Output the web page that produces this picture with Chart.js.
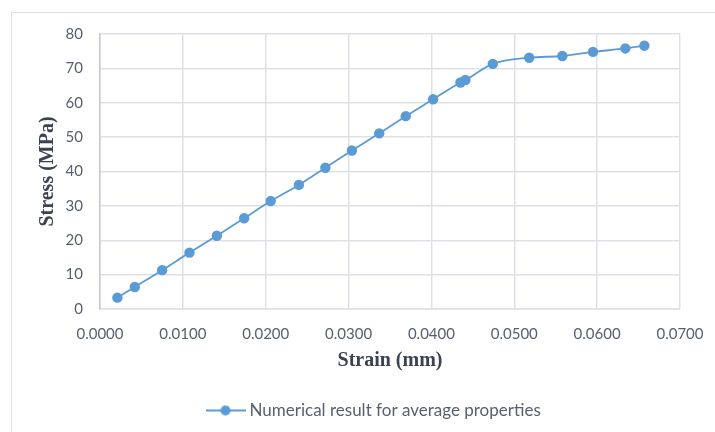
<!DOCTYPE html>
<html>
<head>
<meta charset="utf-8">
<script src="https://cdn.jsdelivr.net/npm/chart.js@4.4.0/dist/chart.umd.min.js"></script>
<style>
  html, body { margin: 0; padding: 0; background: #fff; }
  #wrap { position: relative; width: 715px; height: 432px; overflow: hidden; }
  #frame { position: absolute; left: 11px; top: 12px; width: 760px; height: 460px; border: 1px solid #dde1e7; box-sizing: border-box; }
  #chart { position: absolute; left: 0; top: 0; }
</style>
</head>
<body>
<div id="wrap">
  <div id="frame"></div>
  <canvas id="chart" width="715" height="432"></canvas>
</div>
<script>
// --- DATA ---
const strain = [0.0021, 0.0042, 0.0075, 0.0108, 0.0141, 0.0174, 0.0206, 0.0240, 0.0272, 0.0304,
                0.0337, 0.0369, 0.0402, 0.0435, 0.0441, 0.0474, 0.0518, 0.0558, 0.0595, 0.0634, 0.0657];
const stress = [3.3, 6.4, 11.3, 16.4, 21.3, 26.4, 31.4, 36.1, 41.1, 46.1,
                51.1, 56.1, 61.0, 65.9, 66.6, 71.3, 73.1, 73.6, 74.8, 75.8, 76.6];
const xTicks = [0, 0.01, 0.02, 0.03, 0.04, 0.05, 0.06, 0.07];
const yTicks = [0, 10, 20, 30, 40, 50, 60, 70, 80];
const seriesName = 'Numerical result for average properties';

// --- STYLE ---
const BLUE = '#5b9bd5';
const GRID = '#dde1e7';
const TICK_COLOR = '#586070';
const TITLE_COLOR = '#3b4252';

// legend marker: short line with a dot in the middle
function legendMarker() {
    const c = document.createElement('canvas');
    c.width = 40; c.height = 12;
    const g = c.getContext('2d');
    g.strokeStyle = BLUE; g.lineWidth = 2;
    g.beginPath(); g.moveTo(0, 6); g.lineTo(40, 6); g.stroke();
    g.fillStyle = BLUE;
    g.beginPath(); g.arc(20, 6, 5, 0, Math.PI * 2); g.fill();
    return c;
}

// move legend so it sits where the original one does
const legendShift = {
    id: 'legendShift',
    afterLayout(chart) {
        chart.legend.left = 200;
    }
};

const tickFont = { family: 'Lato', size: 15 };
const legendFont = { family: 'Lato', size: 17 };
const titleFont = { family: 'Liberation Serif', size: 20, weight: 'bold' };

new Chart(document.getElementById('chart'), {
    type: 'line',
    data: {
        datasets: [{
            label: seriesName,
            data: strain.map((x, i) => ({ x: x, y: stress[i] })),
            borderColor: BLUE,
            backgroundColor: BLUE,
            borderWidth: 1.8,
            pointRadius: 5.2,
            pointHoverRadius: 5.2,
            pointBorderWidth: 0,
            cubicInterpolationMode: 'monotone',
            pointStyle: 'circle'
        }]
    },
    options: {
        responsive: false,
        animation: false,
        layout: { padding: { top: 34, right: 35, bottom: 3, left: 0 } },
        scales: {
            x: {
                type: 'linear',
                min: 0,
                max: 0.07,
                afterBuildTicks: s => { s.ticks = xTicks.map(v => ({ value: v })); },
                afterFit: s => { s.height = 83; },
                // invisible tick marks used as spacing, so the label padding does not shrink the plot
                grid: { color: GRID, lineWidth: 1.5, drawTicks: true, tickLength: 16, tickColor: 'rgba(0,0,0,0)' },
                border: { color: GRID, width: 1.5 },
                ticks: {
                    padding: 0,
                    color: TICK_COLOR,
                    font: tickFont,
                    maxRotation: 0,
                    callback: v => Number(v).toFixed(4)
                },
                title: {
                    display: true,
                    text: 'Strain (mm)',
                    color: TITLE_COLOR,
                    font: titleFont,
                    padding: { top: 0, bottom: 19 }
                }
            },
            y: {
                min: 0,
                max: 80,
                afterBuildTicks: s => { s.ticks = yTicks.map(v => ({ value: v })); },
                afterFit: s => { s.width = 100; },
                grid: { color: GRID, lineWidth: 1.5, drawTicks: false },
                border: { color: '#c3c8d0', width: 1.5 },
                ticks: {
                    padding: 17,
                    color: TICK_COLOR,
                    font: tickFont
                },
                title: {
                    display: true,
                    text: 'Stress (MPa)',
                    color: TITLE_COLOR,
                    font: titleFont,
                    padding: { top: 36, bottom: 0 }
                }
            }
        },
        plugins: {
            legend: {
                position: 'bottom',
                align: 'start',
                labels: {
                    usePointStyle: true,
                    pointStyle: legendMarker(),
                    pointStyleWidth: 31,
                    color: TICK_COLOR,
                    font: legendFont,
                    padding: 10
                }
            },
            tooltip: { enabled: false }
        }
    },
    plugins: [legendShift]
});
</script>
</body>
</html>
